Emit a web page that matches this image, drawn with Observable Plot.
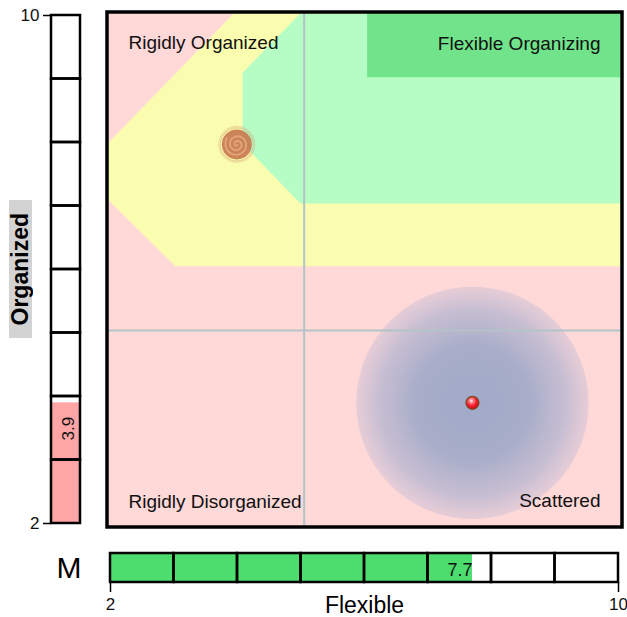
<!DOCTYPE html>
<html>
<head>
<meta charset="utf-8">
<script src="https://cdn.jsdelivr.net/npm/d3@7"></script>
<script src="https://cdn.jsdelivr.net/npm/@observablehq/plot@0.6"></script>
<style>
  html, body { margin: 0; padding: 0; background: #fff; }
  #wrap { position: relative; width: 627px; height: 617px; font-family: "Liberation Sans", Arial, sans-serif; }
  #wrap > svg { position: absolute; left: 0; top: 0; }
  #ylab { position: absolute; left: 9px; top: 200px; width: 23px; height: 138px; background: #d3d3d3;
          display: flex; align-items: center; justify-content: center; }
  #ylab span { writing-mode: vertical-rl; transform: rotate(180deg); font-weight: bold; font-size: 23px; color: #000; line-height: 1; }
</style>
</head>
<body>
<div id="wrap"><div id="ylab"><span id="ylabText"></span></div></div>
<script>
// ---- data ----
const xDomain = [2, 10];
const yDomain = [2, 10];
const flexibleScore = 7.7;      // x of the person marker, bottom gauge value
const organizedScore = 3.9;     // y of the person marker, left gauge value
const spread = 1.83;            // radius of the blue cloud in data units
const spiralPoint = [{x: 3.99, y: 7.97}];
const dividerX = [5.05];
const dividerY = [5.04];
const bounds = [1.97, 10.03];
const yellowZone = [[3.94, 10.03], [10.03, 10.03], [10.03, 6.05], [3.02, 6.05], [1.97, 7.09], [1.97, 8.0]];
const greenZone = [[4.99, 10.03], [10.03, 10.03], [10.03, 7.04], [4.99, 7.04], [4.08, 7.98], [4.08, 9.1]];
const darkGreenZone = [{x1: 6.05, x2: 10.03, y1: 9.02, y2: 10.03}];
const quadrantLabels = ["Rigidly Organized", "Flexible Organizing", "Rigidly Disorganized", "Scattered"];
const gaugeSteps = [2, 3, 4, 5, 6, 7, 8, 9];
const gaugeTicks = [2, 10];
const xTitle = "Flexible";
const yTitle = "Organized";
const gaugeLetter = "M";

const FONT = "Liberation Sans, Arial, sans-serif";
const W = 627, H = 617;
const wrap = document.getElementById("wrap");
document.getElementById("ylabText").textContent = yTitle;

// pixel radius of the spread cloud from the x scale
const pxPerUnit = (618 - 110) / (xDomain[1] - xDomain[0]);

const spiralSymbol = {
  draw(ctx, size) {
    const r = Math.sqrt(size / Math.PI);
    const turns = 2.6, n = 80;
    ctx.moveTo(0, 0);
    for (let i = 1; i <= n; i++) {
      const t = i / n, a = t * turns * 2 * Math.PI;
      ctx.lineTo(r * t * Math.cos(a), r * t * Math.sin(a));
    }
  }
};

// ---- main plot ----
const main = Plot.plot({
  width: W, height: H,
  marginLeft: 110, marginRight: 9, marginTop: 15, marginBottom: 94,
  x: {domain: xDomain, axis: null},
  y: {domain: yDomain, axis: null},
  style: {fontFamily: FONT, background: "transparent"},
  marks: [
    Plot.frame({fill: "#ffd8d8", stroke: "none", inset: -2}),
    Plot.line(yellowZone, {x: "0", y: "1", fill: "#fafdb0", stroke: "none", curve: "linear-closed"}),
    Plot.line(greenZone, {x: "0", y: "1", fill: "#b5fdc5", stroke: "none", curve: "linear-closed"}),
    Plot.rect(darkGreenZone, {x1: "x1", x2: "x2", y1: "y1", y2: "y2", fill: "#70e38b"}),
    Plot.ruleX(dividerX, {y1: bounds[0], y2: bounds[1], stroke: "#b3c3c6", strokeWidth: 2}),
    Plot.dot([{x: flexibleScore, y: organizedScore}], {x: "x", y: "y", r: spread * pxPerUnit, fill: "url(#blueGrad)", stroke: "none"}),
    Plot.ruleY(dividerY, {x1: bounds[0], x2: bounds[1], stroke: "#b3c3c6", strokeWidth: 2}),
    Plot.dot(spiralPoint, {x: "x", y: "y", r: 18, fill: "none", stroke: "#d9a679", strokeOpacity: 0.35, strokeWidth: 1.2}),
    Plot.dot(spiralPoint, {x: "x", y: "y", r: 16.5, fill: "none", stroke: "#d29a6c", strokeOpacity: 0.45, strokeWidth: 1.2}),
    Plot.dot(spiralPoint, {x: "x", y: "y", r: 15, fill: "#c97a50", fillOpacity: 0.92, stroke: "none"}),
    Plot.dot(spiralPoint, {x: "x", y: "y", r: 12, symbol: spiralSymbol, fill: "none", stroke: "#e7ad80", strokeWidth: 1.6, strokeOpacity: 0.9}),
    Plot.dot([{x: flexibleScore, y: organizedScore}], {x: "x", y: "y", r: 6.5, fill: "url(#redGrad)", stroke: "#7a4a24", strokeWidth: 1.2}),
    Plot.text([quadrantLabels[0]], {frameAnchor: "top-left", textAnchor: "start", lineAnchor: "top", dx: 18, dy: 20, fontSize: 19, fill: "#111"}),
    Plot.text([quadrantLabels[1]], {frameAnchor: "top-right", textAnchor: "end", lineAnchor: "top", dx: -18, dy: 21, fontSize: 19, fill: "#111"}),
    Plot.text([quadrantLabels[2]], {frameAnchor: "bottom-left", textAnchor: "start", lineAnchor: "bottom", dx: 18, dy: -16, fontSize: 19, fill: "#111"}),
    Plot.text([quadrantLabels[3]], {frameAnchor: "bottom-right", textAnchor: "end", lineAnchor: "bottom", dx: -18, dy: -17, fontSize: 19, fill: "#111"}),
    Plot.frame({stroke: "#000", strokeWidth: 3.5, inset: -3.5})
  ]
});
const defs = d3.select(main).insert("defs", ":first-child");
const bg = defs.append("radialGradient").attr("id", "blueGrad");
[[0, "#9da8c7", 0.97], [0.5, "#a1aac8", 0.92], [0.8, "#aeb2cf", 0.7], [1, "#b8b8d4", 0.35]]
  .forEach(([o, c, a]) => bg.append("stop").attr("offset", o).attr("stop-color", c).attr("stop-opacity", a));
const rg = defs.append("radialGradient").attr("id", "redGrad").attr("cx", "0.42").attr("cy", "0.35").attr("r", "0.65");
[[0, "#ffffff"], [0.25, "#ff7a80"], [0.6, "#f41a2a"], [1, "#c80a18"]]
  .forEach(([o, c]) => rg.append("stop").attr("offset", o).attr("stop-color", c));
wrap.appendChild(main);

// ---- left gauge (Organized) ----
const left = Plot.plot({
  width: W, height: H,
  marginLeft: 51, marginRight: W - 80, marginTop: 15, marginBottom: 94,
  x: {domain: [0, 1], axis: null},
  y: {domain: yDomain, axis: null},
  style: {fontFamily: FONT, background: "transparent"},
  marks: [
    Plot.rect([organizedScore], {x1: 0, x2: 1, y1: yDomain[0], y2: d => d, fill: "#ffa5a5"}),
    Plot.rect(gaugeSteps, {x1: 0, x2: 1, y1: d => d, y2: d => d + 1, fill: "none", stroke: "#000", strokeWidth: 2.5}),
    Plot.axisY(gaugeTicks, {anchor: "left", tickSize: 8, strokeWidth: 1.5, tickFormat: () => "", label: null}),
    Plot.text(gaugeTicks, {y: d => d, text: d => String(d), frameAnchor: "left", textAnchor: "end", dx: -12, fontSize: 17, fill: "#111"}),
    Plot.text([organizedScore], {x: 0.58, y: d => d, text: d => d.toFixed(1), rotate: -90, textAnchor: "end", dy: 14, fontSize: 17, fill: "#111"})
  ]
});
wrap.appendChild(left);

// ---- bottom gauge (Flexible) ----
const bottom = Plot.plot({
  width: W, height: H,
  marginLeft: 110, marginRight: 9, marginTop: 553, marginBottom: H - 582,
  x: {domain: xDomain, axis: null},
  y: {domain: [0, 1], axis: null},
  style: {fontFamily: FONT, background: "transparent"},
  marks: [
    Plot.rect([flexibleScore], {x1: xDomain[0], x2: d => d, y1: 0, y2: 1, fill: "#4cdd6e"}),
    Plot.rect(gaugeSteps, {x1: d => d, x2: d => d + 1, y1: 0, y2: 1, fill: "none", stroke: "#000", strokeWidth: 2.5}),
    Plot.axisX(gaugeTicks, {anchor: "bottom", tickSize: 10, strokeWidth: 1.5, tickFormat: () => "", label: null}),
    Plot.text(gaugeTicks, {x: d => d, text: d => String(d), frameAnchor: "bottom", lineAnchor: "top", dy: 15, fontSize: 17, fill: "#111"}),
    Plot.text([flexibleScore], {x: d => d, y: 0.5, text: d => d.toFixed(1), textAnchor: "end", dx: 0, dy: 2, fontSize: 18, fill: "#111"}),
    Plot.text([gaugeLetter], {frameAnchor: "left", textAnchor: "start", dx: -54, fontSize: 30, fill: "#000"}),
    Plot.text([xTitle], {frameAnchor: "bottom", lineAnchor: "bottom", dy: 30, fontSize: 23, fill: "#000"})
  ]
});
wrap.appendChild(bottom);
</script>
</body>
</html>
